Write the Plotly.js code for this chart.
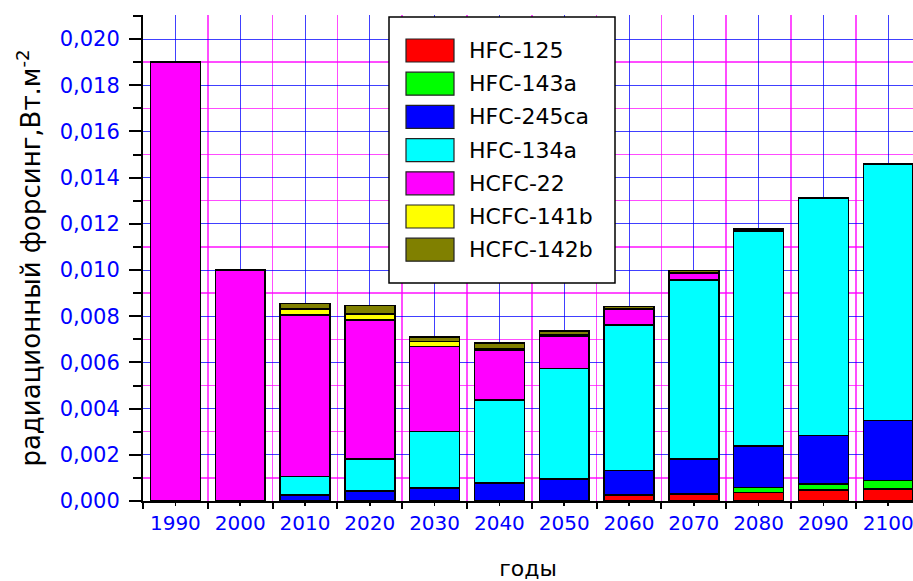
<!DOCTYPE html>
<html>
<head>
<meta charset="utf-8">
<script src="https://cdn.plot.ly/plotly-3.0.1.min.js"></script>
<style>html,body{margin:0;padding:0;background:#fff;}#chart{width:913px;height:581px;}</style>
</head>
<body>
<div id="chart"></div>
<script>
// Categories (years)
var years = ['1990','2000','2010','2020','2030','2040','2050','2060','2070','2080','2090','2100'];

// Series values, W/m^2 (stack order bottom -> top)
var hfc125   = [0, 0, 0, 0, 0, 0, 0, 0.00023, 0.00030, 0.00036, 0.00048, 0.00052];
var hfc143a  = [0, 0, 0, 0, 0, 0, 0, 0.00002, 0.00003, 0.00023, 0.00026, 0.00036];
var hfc245ca = [0, 0, 0.00026, 0.00043, 0.00057, 0.00077, 0.00095, 0.00107, 0.00149, 0.00180, 0.00209, 0.00260];
var hfc134a  = [0, 0, 0.00079, 0.00139, 0.00243, 0.00360, 0.00479, 0.00630, 0.00775, 0.00927, 0.01028, 0.01108];
var hcfc22   = [0.0190, 0.0100, 0.00700, 0.00602, 0.00368, 0.00217, 0.00140, 0.00069, 0.00031, 0.00008, 0.00002, 0.00002];
var hcfc141b = [0, 0, 0.00026, 0.00026, 0.00022, 0.00005, 0.00005, 0.00002, 0.00002, 0.00002, 0, 0];
var hcfc142b = [0, 0, 0.00025, 0.00037, 0.00021, 0.00026, 0.00017, 0.00008, 0.00007, 0.00004, 0.00001, 0];

var seriesNames  = ['HFC-125','HFC-143a','HFC-245ca','HFC-134a','HCFC-22','HCFC-141b','HCFC-142b'];
var seriesValues = [hfc125, hfc143a, hfc245ca, hfc134a, hcfc22, hcfc141b, hcfc142b];
var seriesColors = ['#ff0000','#00ff00','#0000ff','#00ffff','#ff00ff','#ffff00','#808000'];

var FONT = 'DejaVu Sans, Arial, sans-serif';
var xIdx = years.map(function(_, i){ return i; });
var bounds = years.map(function(_, i){ return i - 0.5; }).concat([years.length - 0.5]);

var traces = seriesNames.map(function(name, k){
  return {
    type: 'bar', name: name, x: xIdx,
    y: seriesValues[k].map(function(v){ return v === 0 ? null : v; }),
    width: 0.77,
    marker: {color: seriesColors[k], line: {color: '#000', width: 1.5}},
    showlegend: false, hoverinfo: 'skip'
  };
});

// plot area in pixels
var L = 143, R = 913, T = 15, B = 501;
function px(x){ return (x - L) / (R - L); }
function py(y){ return (B - y) / (B - T); }

var shapes = [];
var annotations = [];
// legend box
shapes.push({type:'rect', xref:'paper', yref:'paper', x0:px(389), x1:px(615), y0:py(283), y1:py(17),
  fillcolor:'#fff', line:{color:'#000', width:1.5}, layer:'above'});
seriesNames.forEach(function(name, i){
  var top = 39 + 33.2 * i;
  shapes.push({type:'rect', xref:'paper', yref:'paper', x0:px(406), x1:px(454), y0:py(top+23), y1:py(top),
    fillcolor: seriesColors[i], line:{color:'#222', width:1.2}, layer:'above'});
  annotations.push({xref:'paper', yref:'paper', x:px(467), y:py(top+11.5), xanchor:'left', yanchor:'middle',
    text:name, showarrow:false, font:{family:FONT, size:22, color:'#000'}});
});

var layout = {
  width: 913, height: 581,
  margin: {l: L, r: 913 - R, t: T, b: 581 - B},
  paper_bgcolor: '#fff', plot_bgcolor: '#fff',
  barmode: 'stack',
  separators: ', ',
  font: {family: FONT, size: 22, color: '#000'},
  xaxis: {
    range: [-0.5, -0.5 + (R - L) / 64.8],
    tickmode: 'array', tickvals: xIdx, ticktext: years,
    ticks: 'outside', ticklen: 3, tickwidth: 1.5, tickcolor: '#000',
    ticklabeloverflow: 'allow',
    tickfont: {family: FONT, size: 20, color: '#0000ff'},
    showgrid: true, gridcolor: 'rgba(0,0,255,0.75)', gridwidth: 1,
    minor: {tickmode: 'array', tickvals: bounds, ticks: 'outside', ticklen: 6, tickwidth: 2, tickcolor: '#000',
            showgrid: true, gridcolor: 'rgba(255,0,255,0.7)', gridwidth: 1.5},
    showline: true, linecolor: '#000', linewidth: 2,
    zeroline: false, fixedrange: true,
    title: {text: 'годы', font: {family: FONT, size: 22, color: '#000'}, standoff: 28}
  },
  yaxis: {
    range: [0, (B - T) / 23.1 * 0.001],
    dtick: 0.002, tick0: 0, tickformat: '.3f',
    ticks: 'outside', ticklen: 12, tickwidth: 2, tickcolor: '#000',
    ticklabelstandoff: 5,
    tickfont: {family: FONT, size: 21, color: '#0000ff'},
    showgrid: true, gridcolor: 'rgba(0,0,255,0.75)', gridwidth: 1,
    minor: {dtick: 0.001, tick0: 0, ticks: 'outside', ticklen: 8, tickwidth: 2, tickcolor: '#000',
            showgrid: true, gridcolor: 'rgba(255,0,255,0.7)', gridwidth: 1.5},
    showline: true, linecolor: '#000', linewidth: 2,
    zeroline: false, fixedrange: true,
    title: {text: 'радиационный форсинг,Вт.м<sup>-2</sup>', font: {family: FONT, size: 26, color: '#000'}, standoff: 12}
  },
  shapes: shapes,
  annotations: annotations,
  showlegend: false
};

Plotly.newPlot('chart', traces, layout, {staticPlot: true, displayModeBar: false});
</script>
</body>
</html>
